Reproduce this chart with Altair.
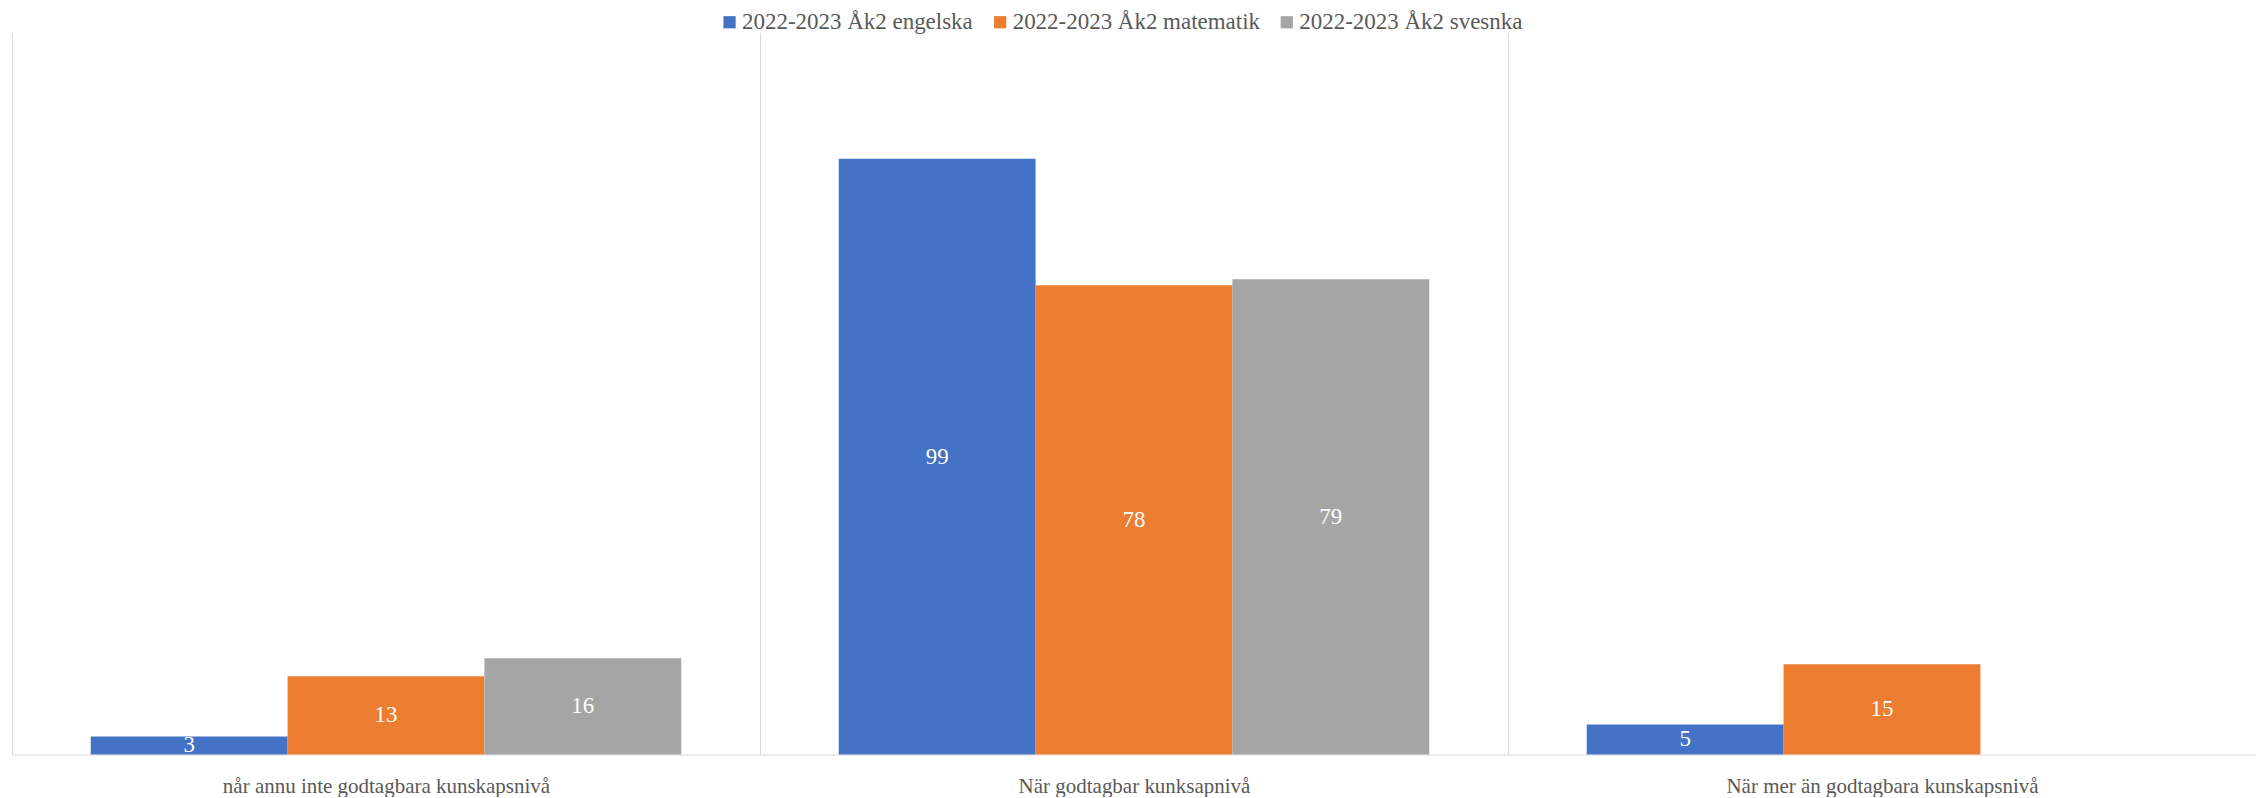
import altair as alt
import pandas as pd

categories = [
    "når annu inte godtagbara kunskapsnivå",
    "När godtagbar kunksapnivå",
    "När mer än godtagbara kunskapsnivå",
]
series = ["2022-2023 Åk2 engelska", "2022-2023 Åk2 matematik", "2022-2023 Åk2 svesnka"]
engelska = [3, 99, 5]
matematik = [13, 78, 15]
svenska = [16, 79, None]
colors = ["#4472C4", "#ED7D31", "#A5A5A5"]

rows = []
for s, vals in zip(series, [engelska, matematik, svenska]):
    for c, v in zip(categories, vals):
        if v is not None:
            rows.append({"cat": c, "series": s, "value": v})
df = pd.DataFrame(rows)

FONT = "Liberation Serif"
W, H = 2247, 723

x = alt.X("cat:N", sort=categories,
          scale=alt.Scale(paddingInner=0, paddingOuter=0),
          axis=alt.Axis(title=None, labelAngle=0, ticks=False, tickSize=0,
                        tickBand="extent", grid=True, gridColor="#D9D9D9",
                        domain=True, domainColor="#D9D9D9", domainWidth=1,
                        labelFont=FONT, labelFontSize=21, labelColor="#595959",
                        labelLimit=0,
                        labelBaseline="alphabetic", labelPadding=38))
xo = alt.XOffset("series:N", sort=series,
                 scale=alt.Scale(paddingInner=0, paddingOuter=0.4))

base = alt.Chart(df).encode(x=x, xOffset=xo)

bars = base.mark_bar().encode(
    y=alt.Y("value:Q", scale=alt.Scale(domain=[0, 120], nice=False),
            axis=alt.Axis(orient="right", labels=False, ticks=False, grid=False,
                          domain=True, domainColor="#D9D9D9", title=None)),
    color=alt.Color("series:N", sort=series,
                    scale=alt.Scale(domain=series, range=colors),
                    legend=alt.Legend(title=None, orient="none", direction="horizontal",
                                      legendX=707, legendY=-22,
                                      symbolType="square", symbolSize=150,
                                      symbolStrokeWidth=0, labelOffset=1,
                                      columnPadding=15, labelLimit=0,
                                      labelFont=FONT, labelFontSize=23,
                                      labelColor="#595959")),
)

labels = base.mark_text(font=FONT, fontSize=23, color="white", baseline="middle").transform_calculate(
    mid="datum.value / 2"
).encode(
    y=alt.Y("mid:Q", scale=alt.Scale(domain=[0, 120], nice=False)),
    text=alt.Text("value:Q"),
)

chart = alt.layer(bars, labels).properties(
    width=W, height=H,
    autosize=alt.AutoSizeParams(type="none"),
    padding={"left": 4, "top": 24, "right": 0, "bottom": 42},
    background="white",
).configure_view(stroke=None)

chart.save("out.html", embed_options={"renderer": "svg", "actions": False})
